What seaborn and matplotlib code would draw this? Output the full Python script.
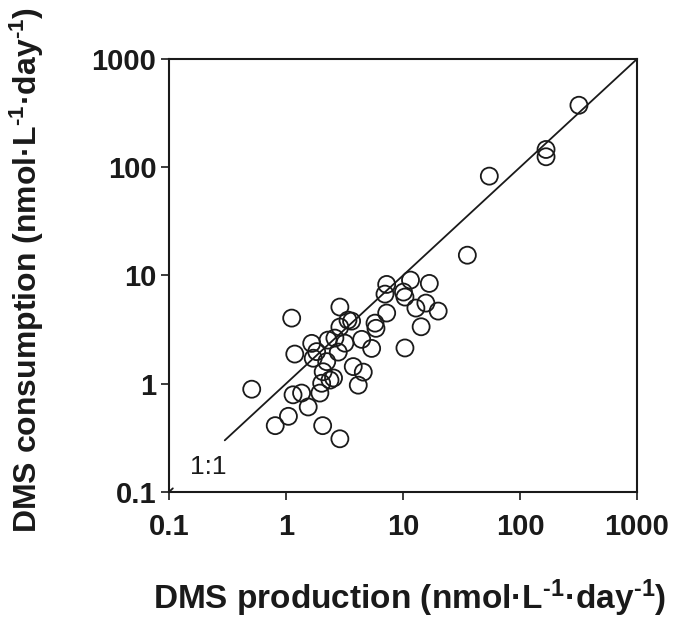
import matplotlib
matplotlib.use('Agg')
import matplotlib.pyplot as plt
import seaborn as sns
import pandas as pd

# DMS production vs consumption (nmol L-1 day-1)
production = [0.51, 1.12, 1.19, 2.89, 7.26, 11.6, 16.8, 10.1, 7.02, 10.4,
              15.7, 12.9, 20.0, 7.26, 14.3, 3.64, 5.77, 5.88, 2.89, 4.44,
              5.40, 10.4, 2.62, 2.29, 1.66, 1.83, 2.80, 3.19, 1.71, 2.23,
              3.76, 4.58, 2.08, 2.38, 2.02, 4.15, 1.15, 1.36, 1.95, 1.55,
              1.05, 0.81, 2.06, 2.89, 35.5, 54.7, 167, 167, 319, 3.39,
              2.55]
consumption = [0.89, 4.04, 1.88, 5.11, 8.27, 9.07, 8.45, 7.03, 6.73, 6.32,
               5.56, 5.00, 4.69, 4.50, 3.36, 3.79, 3.63, 3.25, 3.34, 2.57,
               2.12, 2.14, 2.64, 2.53, 2.36, 1.98, 1.96, 2.37, 1.72, 1.60,
               1.44, 1.28, 1.29, 1.08, 1.01, 0.97, 0.79, 0.82, 0.82, 0.61,
               0.50, 0.41, 0.41, 0.31, 15.4, 82.8, 146, 125, 374, 3.87,
               1.13]
one_to_one = [0.3, 1000]
ticks = [0.1, 1, 10, 100, 1000]
tick_labels = ['0.1', '1', '10', '100', '1000']

df = pd.DataFrame({'prod': production, 'cons': consumption})

sns.set_style('ticks')
plt.rcParams['font.family'] = ['Liberation Sans', 'DejaVu Sans']
plt.rcParams['mathtext.fontset'] = 'custom'
plt.rcParams['mathtext.rm'] = 'Liberation Sans:bold'
plt.rcParams['mathtext.it'] = 'Liberation Sans:bold'
plt.rcParams['mathtext.bf'] = 'Liberation Sans:bold'

fig = plt.figure(figsize=(6.73, 6.20), dpi=100)
ax = fig.add_axes([0.251, 0.2065, 0.6955, 0.6983])

sns.lineplot(x=one_to_one, y=one_to_one, ax=ax, color='#1a1a1a', lw=1.3)
sns.lineplot(x=[0.1, 0.108], y=[0.1, 0.108], ax=ax, color='#1a1a1a', lw=1.3)
sns.scatterplot(data=df, x='prod', y='cons', ax=ax, s=150, marker='o',
                facecolor='none', edgecolor='#1a1a1a', linewidth=1.3, zorder=3)

ax.set_xscale('log')
ax.set_yscale('log')
ax.set_xlim(0.1, 1000)
ax.set_ylim(0.1, 1000)
ax.set_xticks(ticks)
ax.set_xticklabels(tick_labels, fontsize=21, fontweight='bold')
ax.set_yticks(ticks)
ax.set_yticklabels(tick_labels, fontsize=21, fontweight='bold')
ax.minorticks_off()
ax.tick_params(direction='out', length=6, width=1.2, color='#1a1a1a',
               labelcolor='#1a1a1a')
ax.tick_params(axis='y', pad=3)
ax.tick_params(axis='x', pad=9)
for sp in ax.spines.values():
    sp.set_linewidth(1.5)
    sp.set_color('#1a1a1a')

ax.text(0.215, 0.17, '1:1', fontsize=19, ha='center', va='center', color='#1a1a1a')

unit = '(nmol\u00b7L$^{\\text{-1}}$\u00b7day$^{\\text{-1}}$)'
ax.set_xlabel('DMS production ' + unit, fontsize=24, fontweight='bold',
              color='#1a1a1a', va='center', ha='center')
ax.set_ylabel('DMS consumption ' + unit, fontsize=23, fontweight='bold',
              color='#1a1a1a', va='center', ha='center')
ax.xaxis.set_label_coords(0.515, -0.245)
ax.yaxis.set_label_coords(-0.303, 0.513)

fig.savefig('out.png', dpi=100)
